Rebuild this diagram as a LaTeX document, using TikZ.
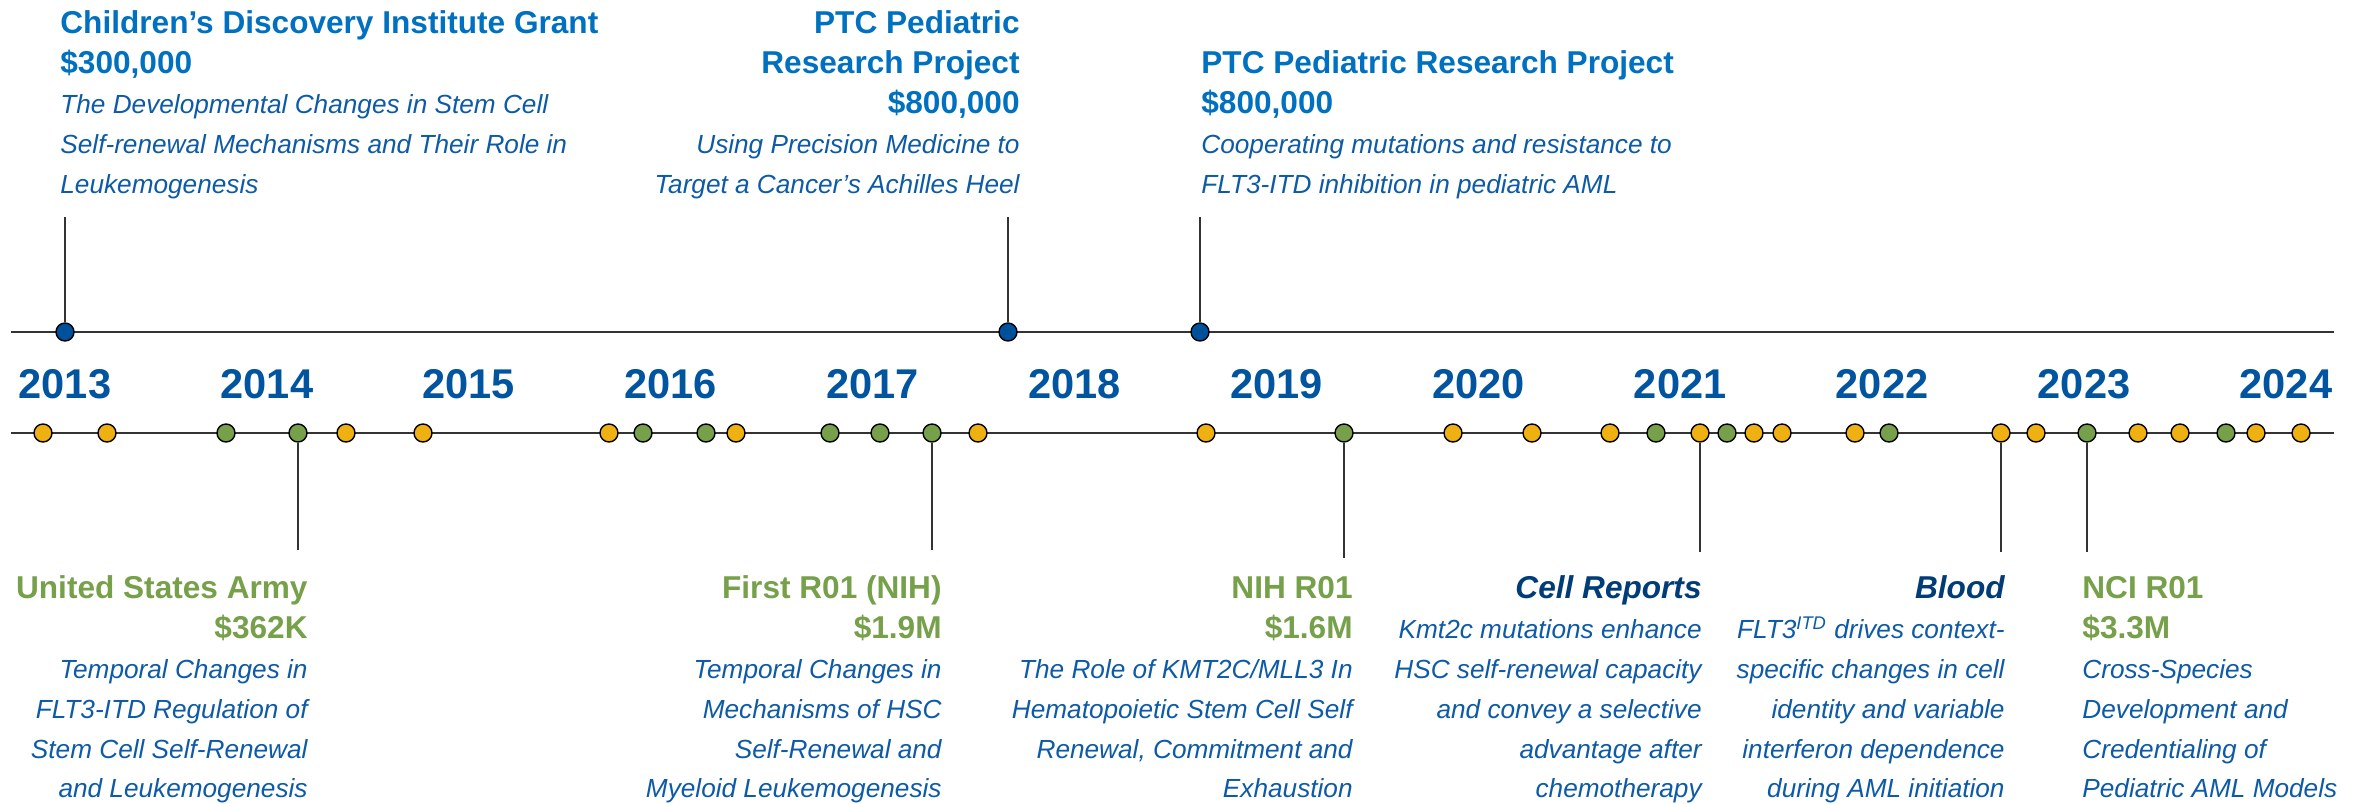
\documentclass[tikz,border=0pt]{standalone}
\usepackage{fontspec}
\setmainfont{Liberation Sans}
\definecolor{titleblue}{HTML}{0070C0}
\definecolor{yrblue}{HTML}{0054A0}
\definecolor{txtblue}{HTML}{0D5AA7}
\definecolor{navy}{HTML}{003C78}
\definecolor{grn}{HTML}{77A04A}
\definecolor{gold}{HTML}{EEB111}
\definecolor{dotblue}{HTML}{00519B}
\definecolor{axisgray}{HTML}{333333}
\begin{document}
\begin{tikzpicture}[x=0.5pt,y=-0.5pt,
  ttl/.style={font=\fontsize{15.8}{19}\selectfont\bfseries, text=titleblue, inner sep=0pt},
  gttl/.style={ttl, text=grn},
  jttl/.style={font=\fontsize{15.8}{19}\selectfont\bfseries\itshape, text=navy, inner sep=0pt},
  itx/.style={font=\fontsize{13.1}{16}\selectfont\itshape, text=txtblue, inner sep=0pt},
  yr/.style={font=\fontsize{20.8}{25}\selectfont\bfseries, text=yrblue, inner sep=0pt, anchor=base},
  dotbase/.style={circle, draw=black, line width=0.7pt, minimum size=9pt, inner sep=0pt},
  ydot/.style={dotbase, fill=gold},
  gdot/.style={dotbase, fill=grn},
  bdot/.style={dotbase, fill=dotblue},
  axis/.style={draw=axisgray, line width=1pt},
  stem/.style={draw=axisgray, line width=0.6pt}]
\useasboundingbox (0,0) rectangle (2364,803);

% axes
\coordinate (tl) at (11,332);
\coordinate (tr) at (2334,332);
\coordinate (bl) at (11,433);
\coordinate (br) at (2334,433);
\draw[axis] (tl) -- (tr);
\draw[axis] (bl) -- (br);

% top dots and stems
\node[bdot] (t1) at (65,332) {};
\node[bdot] (t2) at (1008,332) {};
\node[bdot] (t3) at (1200,332) {};
\coordinate (t1s) at (65,217);
\coordinate (t2s) at (1008,217);
\coordinate (t3s) at (1200,217);
\draw[stem] (t1s) -- (t1);
\draw[stem] (t2s) -- (t2);
\draw[stem] (t3s) -- (t3);

% years
\foreach \yy [count=\i from 0] in {2013,...,2024}{
  \node[yr] (yr\yy) at ({65+201.9*\i},398) {\yy};
}

% bottom dots
\foreach \xx [count=\i] in {43,107,346,423,609,736,978,1206,1453,1532,1610,1754,1782,1855,2036,2138,2180,2256,2301}{
  \node[ydot] (y\i) at (\xx,433) {};
}
\foreach \xx [count=\i] in {226,643,706,830,880,1656,1727,1889,2226}{
  \node[gdot] (g\i) at (\xx,433) {};
}
\node[gdot] (dA) at (298,433) {};
\node[gdot] (dB) at (932,433) {};
\node[gdot] (dC) at (1344,433) {};
\node[ydot] (dD) at (1700,433) {};
\node[ydot] (dE) at (2001,433) {};
\node[gdot] (dF) at (2087,433) {};
\coordinate (sA) at (298,550);
\coordinate (sB) at (932,550);
\coordinate (sC) at (1344,558);
\coordinate (sD) at (1700,552);
\coordinate (sE) at (2001,552);
\coordinate (sF) at (2087,552);
\draw[stem] (dA) -- (sA);
\draw[stem] (dB) -- (sB);
\draw[stem] (dC) -- (sC);
\draw[stem] (dD) -- (sD);
\draw[stem] (dE) -- (sE);
\draw[stem] (dF) -- (sF);

% top block 1
\node[ttl, anchor=base west] (a1) at (60,33) {Children’s Discovery Institute Grant};
\node[ttl, anchor=base west] (a2) at (60,73) {\$300,000};
\node[itx, anchor=base west] (a3) at (60,113) {The Developmental Changes in Stem Cell};
\node[itx, anchor=base west] (a4) at (60,153) {Self-renewal Mechanisms and Their Role in};
\node[itx, anchor=base west] (a5) at (60,193) {Leukemogenesis};

% top block 2
\node[ttl, anchor=base east] (b1) at (1020,33) {PTC Pediatric};
\node[ttl, anchor=base east] (b2) at (1020,73) {Research Project};
\node[ttl, anchor=base east] (b3) at (1020,113) {\$800,000};
\node[itx, anchor=base east] (b4) at (1020,153) {Using Precision Medicine to};
\node[itx, anchor=base east] (b5) at (1020,193) {Target a Cancer’s Achilles Heel};

% top block 3
\node[ttl, anchor=base west] (c1) at (1201,73) {PTC Pediatric Research Project};
\node[ttl, anchor=base west] (c2) at (1201,113) {\$800,000};
\node[itx, anchor=base west] (c3) at (1201,153) {Cooperating mutations and resistance to};
\node[itx, anchor=base west] (c4) at (1201,193) {FLT3-ITD inhibition in pediatric AML};

% bottom block A
\node[gttl, anchor=base east] (A1) at (308,598) {United States Army};
\node[gttl, anchor=base east] (A2) at (308,638) {\$362K};
\node[itx, anchor=base east] (A3) at (308,678) {Temporal Changes in};
\node[itx, anchor=base east] (A4) at (308,718) {FLT3-ITD Regulation of};
\node[itx, anchor=base east] (A5) at (308,758) {Stem Cell Self-Renewal};
\node[itx, anchor=base east] (A6) at (308,797) {and Leukemogenesis};

% bottom block B
\node[gttl, anchor=base east] (B1) at (942,598) {First R01 (NIH)};
\node[gttl, anchor=base east] (B2) at (942,638) {\$1.9M};
\node[itx, anchor=base east] (B3) at (942,678) {Temporal Changes in};
\node[itx, anchor=base east] (B4) at (942,718) {Mechanisms of HSC};
\node[itx, anchor=base east] (B5) at (942,758) {Self-Renewal and};
\node[itx, anchor=base east] (B6) at (942,797) {Myeloid Leukemogenesis};

% bottom block C
\node[gttl, anchor=base east] (C1) at (1353,598) {NIH R01};
\node[gttl, anchor=base east] (C2) at (1353,638) {\$1.6M};
\node[itx, anchor=base east] (C3) at (1353,678) {The Role of KMT2C/MLL3 In};
\node[itx, anchor=base east] (C4) at (1353,718) {Hematopoietic Stem Cell Self};
\node[itx, anchor=base east] (C5) at (1353,758) {Renewal, Commitment and};
\node[itx, anchor=base east] (C6) at (1353,797) {Exhaustion};

% bottom block D
\node[jttl, anchor=base east] (D1) at (1702,598) {Cell Reports};
\node[itx, anchor=base east] (D2) at (1702,638) {Kmt2c mutations enhance};
\node[itx, anchor=base east] (D3) at (1702,678) {HSC self-renewal capacity};
\node[itx, anchor=base east] (D4) at (1702,718) {and convey a selective};
\node[itx, anchor=base east] (D5) at (1702,758) {advantage after};
\node[itx, anchor=base east] (D6) at (1702,797) {chemotherapy};

% bottom block E
\node[jttl, anchor=base east] (E1) at (2005,598) {Blood};
\node[itx, anchor=base east] (E2) at (2005,638) {FLT3\textsuperscript{ITD} drives context-};
\node[itx, anchor=base east] (E3) at (2005,678) {specific changes in cell};
\node[itx, anchor=base east] (E4) at (2005,718) {identity and variable};
\node[itx, anchor=base east] (E5) at (2005,758) {interferon dependence};
\node[itx, anchor=base east] (E6) at (2005,797) {during AML initiation};

% bottom block F
\node[gttl, anchor=base west] (F1) at (2082,598) {NCI R01};
\node[gttl, anchor=base west] (F2) at (2082,638) {\$3.3M};
\node[itx, anchor=base west] (F3) at (2082,678) {Cross-Species};
\node[itx, anchor=base west] (F4) at (2082,718) {Development and};
\node[itx, anchor=base west] (F5) at (2082,758) {Credentialing of};
\node[itx, anchor=base west] (F6) at (2082,797) {Pediatric AML Models};
\end{tikzpicture}
\end{document}
